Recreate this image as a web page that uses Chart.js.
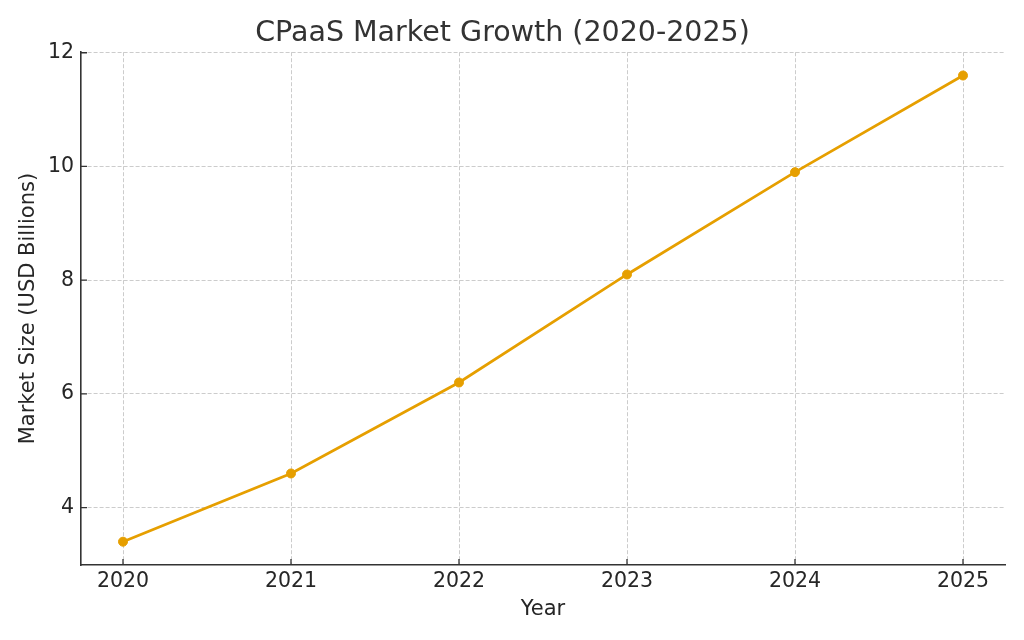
<!DOCTYPE html>
<html>
<head>
<meta charset="utf-8">
<script src="https://cdn.jsdelivr.net/npm/chart.js@4/dist/chart.umd.min.js"></script>
<style>
    html, body { margin: 0; padding: 0; background: #fff; }
    #wrap { width: 1024px; height: 640px; }
</style>
</head>
<body>
<div id="wrap"><canvas id="chart-market"></canvas></div>
<script>
const years = [2020, 2021, 2022, 2023, 2024, 2025];
const marketSize = [3.4, 4.6, 6.2, 8.1, 9.9, 11.6];
const yTicks = [4, 6, 8, 10, 12];

const lineColor = '#E69F00';
const textColor = '#262626';

// matplotlib style ticks point into the plot
const innerTicks = {
    id: 'innerTicks',
    afterDraw(chart) {
        const ctx = chart.ctx;
        const x = chart.scales.x;
        const y = chart.scales.y;
        const area = chart.chartArea;
        ctx.save();
        ctx.strokeStyle = '#333';
        ctx.lineWidth = 1.3;
        ctx.beginPath();
        x.ticks.forEach(function (t) {
            const px = x.getPixelForValue(t.value);
            ctx.moveTo(px, area.bottom);
            ctx.lineTo(px, area.bottom - 6);
        });
        y.ticks.forEach(function (t) {
            const py = y.getPixelForValue(t.value);
            ctx.moveTo(area.left, py);
            ctx.lineTo(area.left + 6, py);
        });
        ctx.stroke();
        ctx.restore();
    }
};

Chart.defaults.font.family = '"DejaVu Sans", sans-serif';
Chart.defaults.color = textColor;

new Chart(document.getElementById('chart-market'), {
    type: 'line',
    data: {
        datasets: [{
            label: 'Market Size',
            data: years.map((yr, i) => ({ x: yr, y: marketSize[i] })),
            borderColor: lineColor,
            backgroundColor: lineColor,
            borderWidth: 2.7,
            pointRadius: 4.5,
            pointBorderWidth: 1,
            pointBackgroundColor: lineColor,
            pointBorderColor: lineColor,
            tension: 0
        }]
    },
    options: {
        responsive: true,
        maintainAspectRatio: false,
        animation: false,
        layout: { padding: { left: 0, right: 19, top: 0, bottom: 0 } },
        plugins: {
            legend: { display: false },
            tooltip: { enabled: false },
            title: {
                display: true,
                text: 'CPaaS Market Growth (2020-2025)',
                color: '#333',
                font: { size: 28.5, weight: 'normal' },
                padding: { top: 16, bottom: 2 }
            }
        },
        scales: {
            x: {
                type: 'linear',
                min: 2019.75,
                max: 2025.25,
                afterBuildTicks: function (scale) {
                    scale.ticks = years.map(v => ({ value: v }));
                },
                afterFit: function (scale) {
                    scale.height = 75;
                },
                ticks: {
                    callback: v => String(v),
                    font: { size: 20.5 },
                    color: textColor,
                    padding: 4,
                    maxRotation: 0
                },
                grid: {
                    color: '#cccccc',
                    lineWidth: 1,
                    drawTicks: false
                },
                border: { color: '#333', width: 1.6, dash: [4, 2] },
                title: {
                    display: true,
                    text: 'Year',
                    font: { size: 21 },
                    color: textColor,
                    padding: { top: 0, bottom: 18 }
                }
            },
            y: {
                min: 2.99,
                max: 12.01,
                afterBuildTicks: function (scale) {
                    scale.ticks = yTicks.map(v => ({ value: v }));
                },
                afterFit: function (scale) {
                    scale.width = 81;
                },
                ticks: {
                    font: { size: 20.5 },
                    color: textColor,
                    padding: 7
                },
                grid: {
                    color: '#cccccc',
                    lineWidth: 1,
                    drawTicks: false
                },
                border: { color: '#333', width: 1.6, dash: [4, 2] },
                title: {
                    display: true,
                    text: 'Market Size (USD Billions)',
                    font: { size: 21 },
                    color: textColor,
                    padding: { top: 16, bottom: 0 }
                }
            }
        }
    },
    plugins: [innerTicks]
});
</script>
</body>
</html>
